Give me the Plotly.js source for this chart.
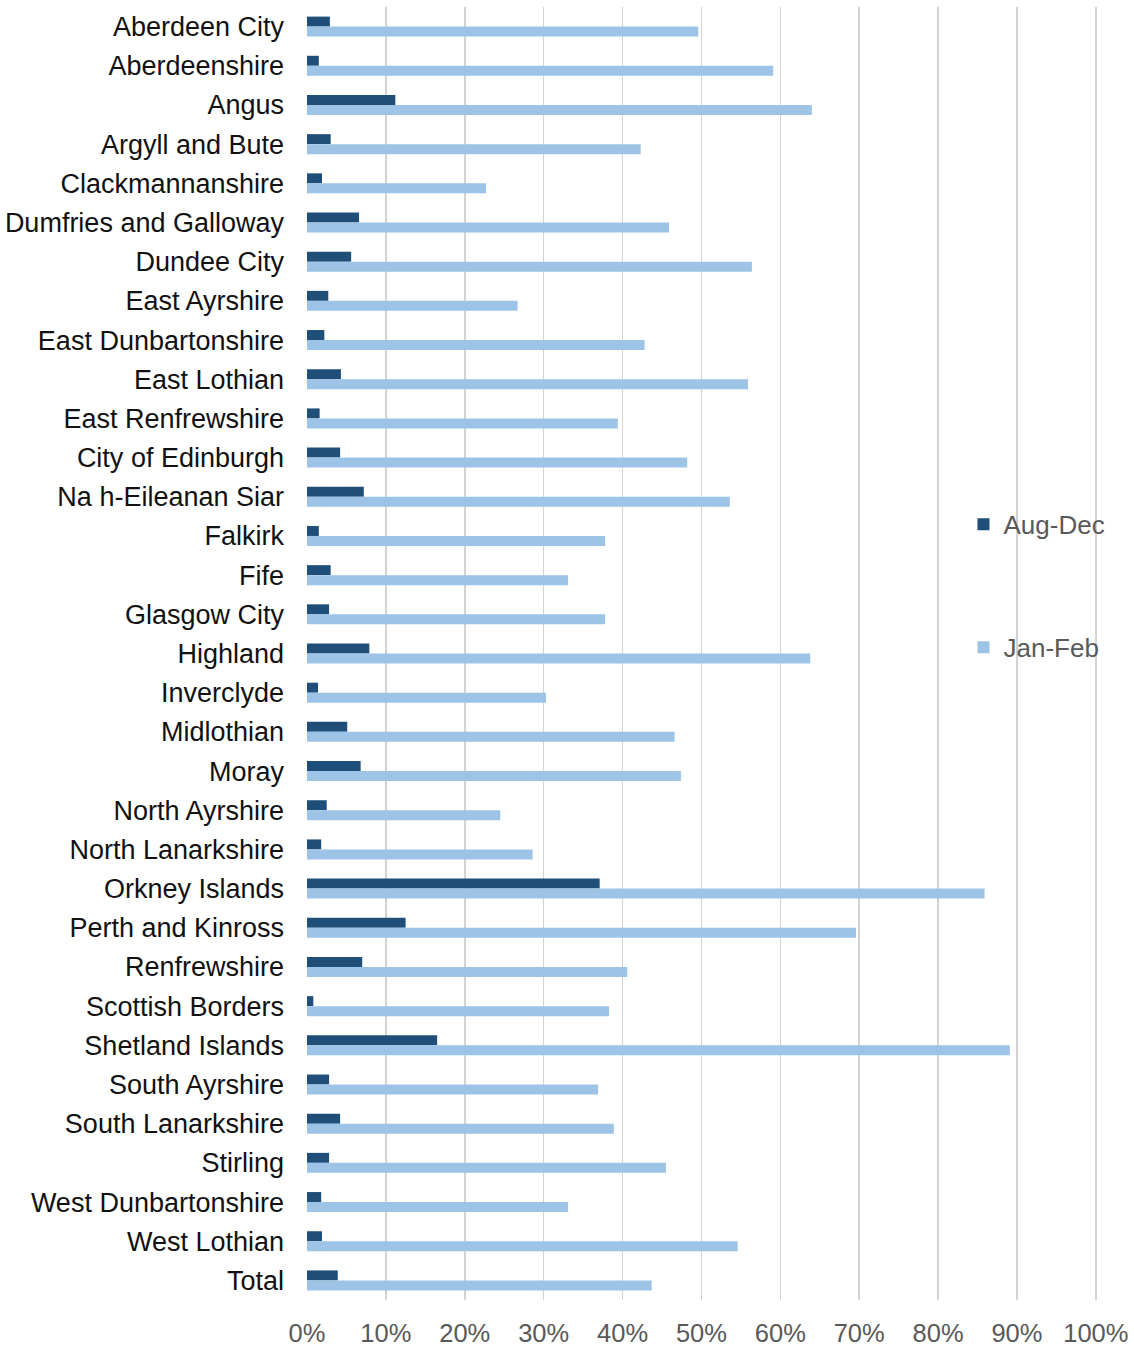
<!DOCTYPE html>
<html>
<head>
<meta charset="utf-8">
<script src="https://cdn.plot.ly/plotly-3.0.1.min.js"></script>
<style>
html,body{margin:0;padding:0;background:#fff;}
#chart{width:1134px;height:1347px;}
</style>
</head>
<body>
<div id="chart"></div>
<script>
const categories = [
  "Aberdeen City","Aberdeenshire","Angus","Argyll and Bute","Clackmannanshire",
  "Dumfries and Galloway","Dundee City","East Ayrshire","East Dunbartonshire",
  "East Lothian","East Renfrewshire","City of Edinburgh","Na h-Eileanan Siar",
  "Falkirk","Fife","Glasgow City","Highland","Inverclyde","Midlothian","Moray",
  "North Ayrshire","North Lanarkshire","Orkney Islands","Perth and Kinross",
  "Renfrewshire","Scottish Borders","Shetland Islands","South Ayrshire",
  "South Lanarkshire","Stirling","West Dunbartonshire","West Lothian","Total"
];
const augDec = [
  0.029,0.015,0.112,0.030,0.019,0.066,0.056,0.027,0.022,0.043,0.016,0.042,0.072,
  0.015,0.030,0.028,0.079,0.014,0.051,0.068,0.025,0.018,0.371,0.125,0.070,0.008,
  0.165,0.028,0.042,0.028,0.018,0.019,0.039
];
const janFeb = [
  0.496,0.591,0.640,0.423,0.227,0.459,0.564,0.267,0.428,0.559,0.394,0.482,0.536,
  0.378,0.331,0.378,0.638,0.303,0.466,0.474,0.245,0.286,0.859,0.696,0.406,0.383,
  0.891,0.369,0.389,0.455,0.331,0.546,0.437
];
const tickVals = [0,0.1,0.2,0.3,0.4,0.5,0.6,0.7,0.8,0.9,1.0];
const tickText = ["0%","10%","20%","30%","40%","50%","60%","70%","80%","90%","100%"];

const font = "Liberation Sans, Arial, sans-serif";

const traces = [
  {type:"bar", orientation:"h", name:"Aug-Dec", y:categories, x:augDec,
   marker:{color:"#1F4E79"}, legendgroup:"a"},
  {type:"bar", orientation:"h", name:"Jan-Feb", y:categories, x:janFeb,
   marker:{color:"#9DC3E6"}, legendgroup:"b"}
];

const layout = {
  width:1134, height:1347,
  margin:{l:307, r:37, t:7, b:47},
  paper_bgcolor:"#fff", plot_bgcolor:"#fff",
  barmode:"group", bargap:0.49, bargroupgap:0,
  font:{family:font, size:26, color:"#000"},
  showlegend:true,
  legend:{x:0.831, y:0.618, xanchor:"left", yanchor:"top",
    bgcolor:"rgba(0,0,0,0)", font:{family:font, size:26, color:"#595959"},
    traceorder:"grouped", tracegroupgap:86, itemwidth:30},
  xaxis:{range:[0,1.0015], tickvals:tickVals, ticktext:tickText,
    showgrid:true, gridcolor:"#D3D3D3", gridwidth:1.5,
    zeroline:false, showline:false, ticks:"",
    tickfont:{family:font, size:25.5, color:"#595959"}, ticklabelstandoff:15,
    fixedrange:true},
  yaxis:{type:"category", autorange:"reversed", showgrid:false, zeroline:false,
    showline:false, ticks:"", tickfont:{family:font, size:27, color:"#111"},
    ticklabelstandoff:22, fixedrange:true}
};

Plotly.newPlot("chart", traces, layout, {displayModeBar:false, staticPlot:true});
</script>
</body>
</html>
